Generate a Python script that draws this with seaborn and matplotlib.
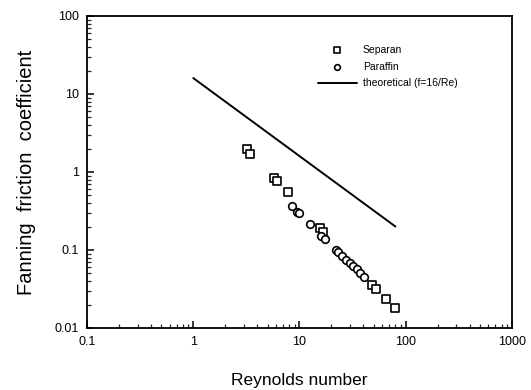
import matplotlib
matplotlib.use("Agg")
import matplotlib.pyplot as plt
import matplotlib.ticker as mticker
import seaborn as sns
import pandas as pd

# ---- data ----
separan_re = [3.21, 3.45, 5.81, 6.16, 7.76, 15.5, 16.7, 48.5, 52.1, 64.8, 79.2]
separan_f = [1.95, 1.71, 0.832, 0.762, 0.55, 0.189, 0.168, 0.0354, 0.0315, 0.0234, 0.0182]

paraffin_re = [8.53, 9.38, 10.0, 12.5, 16.0, 17.5, 21.9, 23.2, 25.3, 27.6, 29.6, 31.8, 35.0, 37.1, 40.4]
paraffin_f = [0.363, 0.31, 0.295, 0.216, 0.153, 0.138, 0.1007, 0.095, 0.0843, 0.075, 0.069, 0.0627, 0.0569, 0.0514, 0.0457]

theory_re = [1, 80]
theory_f = [16, 0.2]

x_ticks = [0.1, 1, 10, 100, 1000]
x_tick_labels = ["0.1", "1", "10", "100", "1000"]
y_ticks = [0.01, 0.1, 1, 10, 100]
y_tick_labels = ["0.01", "0.1", "1", "10", "100"]

sns.set_theme(style="white")
plt.rcParams["font.family"] = ["Liberation Sans", "DejaVu Sans"]

fig = plt.figure(figsize=(5.31, 3.90), dpi=100)
ax = fig.add_axes([0.164, 0.159, 0.800, 0.800])

df_s = pd.DataFrame({"Re": separan_re, "f": separan_f})
df_p = pd.DataFrame({"Re": paraffin_re, "f": paraffin_f})
df_t = pd.DataFrame({"Re": theory_re, "f": theory_f})

sns.scatterplot(data=df_s, x="Re", y="f", ax=ax, marker="s", s=30,
                facecolor="white", edgecolor="black", linewidth=1.2, label="Separan")
sns.scatterplot(data=df_p, x="Re", y="f", ax=ax, marker="o", s=30,
                facecolor="white", edgecolor="black", linewidth=1.2, label="Paraffin")
sns.lineplot(data=df_t, x="Re", y="f", ax=ax, color="black", linewidth=1.4,
             label="theoretical (f=16/Re)")

ax.set_xscale("log")
ax.set_yscale("log")
ax.set_xlim(0.1, 1000)
ax.set_ylim(0.01, 100)

ax.xaxis.set_major_locator(mticker.FixedLocator(x_ticks))
ax.xaxis.set_major_formatter(mticker.FixedFormatter(x_tick_labels))
ax.yaxis.set_major_locator(mticker.FixedLocator(y_ticks))
ax.yaxis.set_major_formatter(mticker.FixedFormatter(y_tick_labels))
ax.xaxis.set_minor_locator(mticker.LogLocator(base=10, subs=range(2, 10), numticks=20))
ax.yaxis.set_minor_locator(mticker.LogLocator(base=10, subs=range(2, 10), numticks=20))
ax.xaxis.set_minor_formatter(mticker.NullFormatter())
ax.yaxis.set_minor_formatter(mticker.NullFormatter())

ax.tick_params(axis="both", which="major", direction="in", length=5, width=1.1,
               labelsize=9, colors="black", bottom=True, left=True, top=False, right=False)
ax.tick_params(axis="y", which="major", pad=6)
ax.tick_params(axis="x", which="major", pad=6)
ax.tick_params(axis="both", which="minor", direction="in", length=3, width=0.9,
               bottom=True, left=True, top=False, right=False)

for sp in ax.spines.values():
    sp.set_color("black")
    sp.set_linewidth(1.3)
    sp.set_visible(True)

ax.set_xlabel("Reynolds number", fontsize=12.5, color="black", labelpad=18)
ax.set_ylabel("Fanning  friction  coefficient", fontsize=14.5, color="black", labelpad=13)

handles, labels = ax.get_legend_handles_labels()
leg = ax.legend(handles, labels, loc="upper right", bbox_to_anchor=(0.894, 0.9375),
                frameon=False, fontsize=7.5, markerscale=0.75, handlelength=3.75,
                handletextpad=0.58, labelspacing=0.65)
for t in leg.get_texts():
    t.set_color("black")

fig.savefig("out.png", dpi=100, facecolor="white")
